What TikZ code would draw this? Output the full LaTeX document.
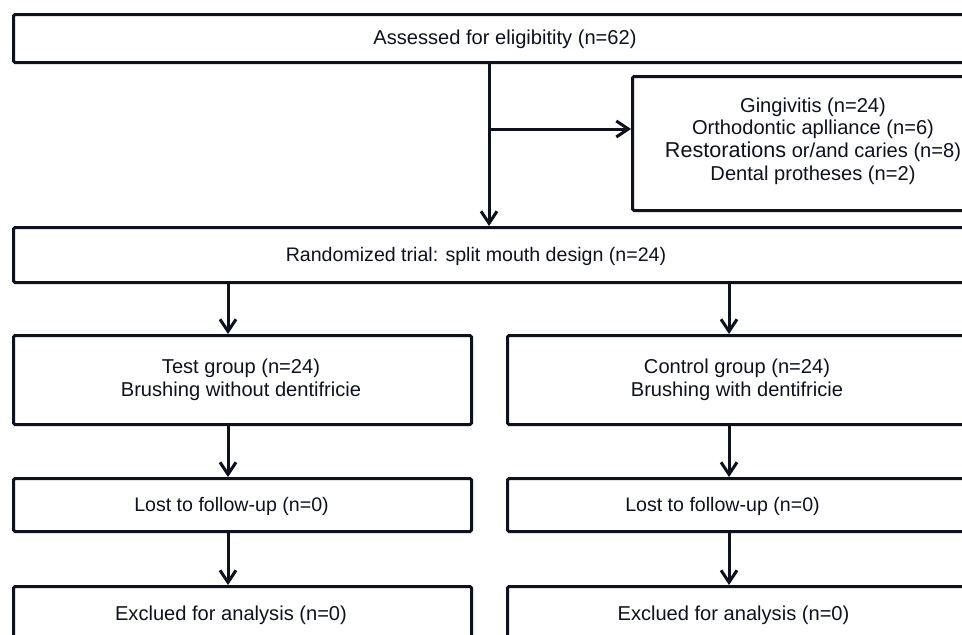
\documentclass[tikz,border=0pt]{standalone}
\usepackage{fontspec}
\setmainfont{Liberation Sans}
\usetikzlibrary{arrows.meta}
\definecolor{ink}{RGB}{14,17,30}
\begin{document}
\begin{tikzpicture}[x=1pt,y=-1pt,
  box/.style={draw=ink, line width=3pt, rounded corners=1.5pt, inner sep=0pt, anchor=north west, rectangle},
  txt/.style={font=\fontsize{20.1}{22.8}\selectfont, text=ink, align=center, inner sep=0pt},
  smalltxt/.style={txt, font=\fontsize{19.6}{22.8}\selectfont},
  arr/.style={draw=ink, line width=3pt, -{Straight Barb[length=12pt,width=16pt]}}]
\useasboundingbox (0,0) rectangle (962,635);
\clip (0,0) rectangle (962,635);
% boxes
\node[box, minimum width=990pt, minimum height=48pt] (top) at (12,13) {};
\node[box, minimum width=370pt, minimum height=134pt] (excl) at (631,75) {};
\node[box, minimum width=990pt, minimum height=55pt] (rand) at (12,226) {};
\node[box, minimum width=458pt, minimum height=89pt] (test) at (12,334) {};
\node[box, minimum width=460pt, minimum height=89pt] (ctrl) at (506,334) {};
\node[box, minimum width=458pt, minimum height=53pt] (lostl) at (12,477) {};
\node[box, minimum width=460pt, minimum height=53pt] (lostr) at (506,477) {};
\node[box, minimum width=458pt, minimum height=80pt] (exl) at (12,585) {};
\node[box, minimum width=460pt, minimum height=80pt] (exr) at (506,585) {};
% texts
\node[txt, anchor=base] (t0) at (505,44) {Assessed for eligibitity (n=62)};
\node[txt] (t1) at (813,141) {Gingivitis (n=24)\\Orthodontic aplliance (n=6)\\{\fontsize{21.6}{22.8}\selectfont Restorations} or/and caries (n=8)\\Dental protheses (n=2)};
\node[smalltxt, anchor=base] (t2) at (476,261) {Randomized trial: split mouth design (n=24)};
\node[txt] (t3) at (241,380) {Test group (n=24)\\Brushing without dentifricie};
\node[txt] (t4) at (737,380) {Control group (n=24)\\Brushing with dentifricie};
\node[smalltxt, anchor=base] (t5) at (231.5,511) {Lost to follow-up (n=0)};
\node[smalltxt, anchor=base] (t6) at (722.5,511) {Lost to follow-up (n=0)};
\node[txt, anchor=base] (t7) at (231,620) {Exclued for analysis (n=0)};
\node[txt, anchor=base] (t8) at (733.5,620) {Exclued for analysis (n=0)};
% connectors
\coordinate (cm) at (489,0);
\coordinate (cl) at (228,0);
\coordinate (cr) at (729,0);
\coordinate (j) at (489,129);
\draw[arr] (top.south -| cm) -- (rand.north -| cm);
\draw[arr] (j) -- (j -| excl.west);
\draw[arr] (rand.south -| cl) -- (test.north -| cl);
\draw[arr] (rand.south -| cr) -- (ctrl.north -| cr);
\draw[arr] (test.south -| cl) -- (lostl.north -| cl);
\draw[arr] (ctrl.south -| cr) -- (lostr.north -| cr);
\draw[arr] (lostl.south -| cl) -- (exl.north -| cl);
\draw[arr] (lostr.south -| cr) -- (exr.north -| cr);
\end{tikzpicture}
\end{document}
